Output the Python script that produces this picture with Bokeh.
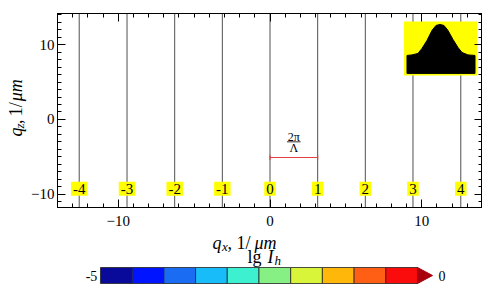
import math
from bokeh.plotting import figure
from bokeh.models import LinearAxis, Range1d, FixedTicker
from bokeh.layouts import column, row
from bokeh.core.properties import value
from bokeh.embed import file_html
from bokeh.resources import INLINE

# ---- data ----
orders = ["-4", "-3", "-2", "-1", "0", "1", "2", "3", "4"]
order_qx = [-12.57, -9.42, -6.28, -3.14, 0.0, 3.14, 6.28, 9.42, 12.57]
order_label_qz = -9.3
bracket_qx = [0.0, 3.14]
bracket_qz = -5.1

# inset: grating profile (qx, qz in axis units) on a yellow background
inset_box_x = [8.83, 13.64]
inset_box_y = [5.90, 13.14]
profile_x = [9.025, 9.354, 9.750, 10.013, 10.343, 10.672, 10.936, 11.199,
             11.462, 11.726, 12.055, 12.385, 12.648, 13.043, 13.505]
profile_top = [8.58, 8.65, 8.85, 9.52, 10.59, 11.93, 12.60, 12.73,
               12.60, 11.93, 10.72, 9.65, 8.98, 8.65, 8.58]
profile_base = 6.17

# colour bar
cb_levels = [-5.0, -4.5, -4.0, -3.5, -3.0, -2.5, -2.0, -1.5, -1.0, -0.5, 0.0]
cb_colors = ["#0a0a9a", "#0014ff", "#1a6cf2", "#18bcf8", "#3cf0d0",
             "#86f084", "#d8f53a", "#ffb70a", "#ff5f14", "#fa0c0c"]
cb_over_color = "#a8000c"

x_ticks = [-10, 0, 10]
y_ticks = [-10, 0, 10]
x_minor = [float(v) for v in range(-14, 15)]
y_minor = [float(v) for v in range(-11, 15)]
tick_labels = {-10: "\u221210", 0: "0", 10: "10"}
blank_labels = {-10: "", 0: "", 10: ""}

SERIF = "Liberation Serif"
H_MAIN = 232
YLAB_W = 28

p = figure(width=454, height=H_MAIN, x_range=Range1d(-14, 14), y_range=Range1d(-11.8, 14.2),
           output_backend="svg", toolbar_location=None,
           min_border_left=27, min_border_right=0, min_border_top=13, min_border_bottom=25)
p.xgrid.visible = False
p.ygrid.visible = False
p.outline_line_color = "black"

def style_axis(ax, show_labels):
    ax.major_tick_in = 8
    ax.major_tick_out = 0
    ax.minor_tick_in = 4
    ax.minor_tick_out = 0
    ax.axis_line_color = "black"
    ax.major_tick_line_color = "black"
    ax.minor_tick_line_color = "black"
    ax.major_label_text_font = SERIF
    ax.major_label_text_font_size = "15px"
    ax.major_label_text_color = "black"
    if show_labels:
        ax.major_label_overrides = tick_labels
    else:
        ax.major_label_overrides = blank_labels
        ax.major_label_standoff = 0

xt = FixedTicker(ticks=x_ticks, minor_ticks=x_minor)
yt = FixedTicker(ticks=y_ticks, minor_ticks=y_minor)
p.xaxis.ticker = xt
p.yaxis.ticker = yt
style_axis(p.xaxis[0], True)
style_axis(p.yaxis[0], True)
p.xaxis.major_label_standoff = 8
p.yaxis.major_label_standoff = 3

ax_r = LinearAxis(ticker=yt)
style_axis(ax_r, False)
p.add_layout(ax_r, "right")
ax_t = LinearAxis(ticker=xt)
style_axis(ax_t, False)
p.add_layout(ax_t, "above")

# diffraction orders: vertical lines
p.segment(x0=order_qx, y0=-11.8, x1=order_qx, y1=14.2, line_color="#505050", line_width=1)

# order labels with yellow boxes
p.text(x=order_qx, y=order_label_qz, text=orders, text_font=value(SERIF),
       text_font_size="15px", text_align="center", text_baseline="middle",
       text_color="black", background_fill_color="#ffff00", padding=2)

# red bracket 2pi/Lambda
p.segment(x0=[bracket_qx[0]], y0=[bracket_qz], x1=[bracket_qx[1]], y1=[bracket_qz],
          line_color="#e04040", line_width=1.2)
p.segment(x0=bracket_qx, y0=[bracket_qz - 0.3] * 2, x1=bracket_qx, y1=[bracket_qz + 0.3] * 2,
          line_color="#e04040", line_width=1.2)
mid = (bracket_qx[0] + bracket_qx[1]) / 2
p.text(x=[mid], y=[bracket_qz + 2.75], text=["2\u03c0"], text_font=value(SERIF),
       text_font_size="12px", text_align="center", text_baseline="middle", text_color="black")
p.segment(x0=[mid - 0.45], y0=[bracket_qz + 2.1], x1=[mid + 0.45], y1=[bracket_qz + 2.1],
          line_color="black", line_width=0.8)
p.text(x=[mid], y=[bracket_qz + 1.3], text=["\u039b"], text_font=value(SERIF),
       text_font_size="12px", text_align="center", text_baseline="middle", text_color="black")

# inset
p.quad(left=[inset_box_x[0]], right=[inset_box_x[1]], bottom=[inset_box_y[0]], top=[inset_box_y[1]],
       fill_color="#ffff00", line_color=None)
px = [profile_x[0]] + profile_x + [profile_x[-1]]
py = [profile_base] + profile_top + [profile_base]
p.patch(px, py, fill_color="black", line_color="black")

# ---- y-axis label strip (1 data unit = 1 pixel) ----
yl = figure(width=YLAB_W, height=H_MAIN, x_range=Range1d(0, YLAB_W), y_range=Range1d(0, H_MAIN),
            output_backend="svg", toolbar_location=None, x_axis_type=None, y_axis_type=None,
            min_border=0)
yl.xgrid.visible = False
yl.ygrid.visible = False
yl.outline_line_color = None
A = math.pi / 2
ylab_pieces = [("q", 15, 85, "18px", "italic"),
               ("z", 18.5, 94.5, "13px", "italic"),
               (",", 15, 100, "18px", "normal"),
               ("1/", 15, 109, "18px", "normal"),
               ("\u03bcm", 15, 127, "18px", "italic")]
for t, xx, yy, sz, st in ylab_pieces:
    yl.text(x=[xx], y=[yy], text=[t], angle=A, text_font=value(SERIF), text_font_size=sz,
            text_font_style=st, text_align="left", text_baseline="alphabetic", text_color="black")

# ---- bottom strip: x label, colour bar title, colour bar ----
BOT_H = 286 - H_MAIN
cb = figure(width=488, height=BOT_H, x_range=Range1d(-6.577, 1.12), y_range=Range1d(0, BOT_H),
            output_backend="svg", toolbar_location=None, x_axis_type=None, y_axis_type=None,
            min_border=0)
cb.xgrid.visible = False
cb.ygrid.visible = False
cb.outline_line_color = None
PX = 63.4  # pixels per colour-bar unit
def ux(page_x):
    return (page_x - 100) / PX - 5

text_pieces = [("q", 212, 44, "18px", "italic"),
               ("x", 221.5, 40.5, "13px", "italic"),
               (",", 227, 44, "18px", "normal"),
               ("1/", 236, 44, "18px", "normal"),
               ("\u03bcm", 254, 44, "18px", "italic"),
               ("lg", 247, 30, "18px", "normal"),
               ("I", 267, 30, "18px", "italic"),
               ("h", 274, 26.5, "13px", "italic")]
for t, xx, yy, sz, st in text_pieces:
    cb.text(x=[ux(xx)], y=[yy], text=[t], text_font=value(SERIF), text_font_size=sz,
            text_font_style=st, text_align="left", text_baseline="alphabetic", text_color="black")

bar_bottom, bar_top = 3, 19
bar_mid = (bar_bottom + bar_top) / 2
cb.quad(left=cb_levels[:-1], right=cb_levels[1:], bottom=bar_bottom, top=bar_top, fill_color=cb_colors,
        line_color="#222222", line_width=0.8)
cb.patch([cb_levels[-1], cb_levels[-1] + 0.237, cb_levels[-1]], [bar_bottom, bar_mid, bar_top],
         fill_color=cb_over_color, line_color=cb_over_color)
cb.text(x=[cb_levels[0] - 0.05], y=[bar_mid], text=["-5"], text_font=value(SERIF), text_font_size="14px",
        text_align="right", text_baseline="middle", text_color="black")
cb.text(x=[cb_levels[-1] + 0.33], y=[bar_mid], text=["0"], text_font=value(SERIF), text_font_size="14px",
        text_align="left", text_baseline="middle", text_color="black")

layout = column(row(yl, p, spacing=0), cb, spacing=0)
open("out.html", "w").write(file_html(layout, INLINE))
